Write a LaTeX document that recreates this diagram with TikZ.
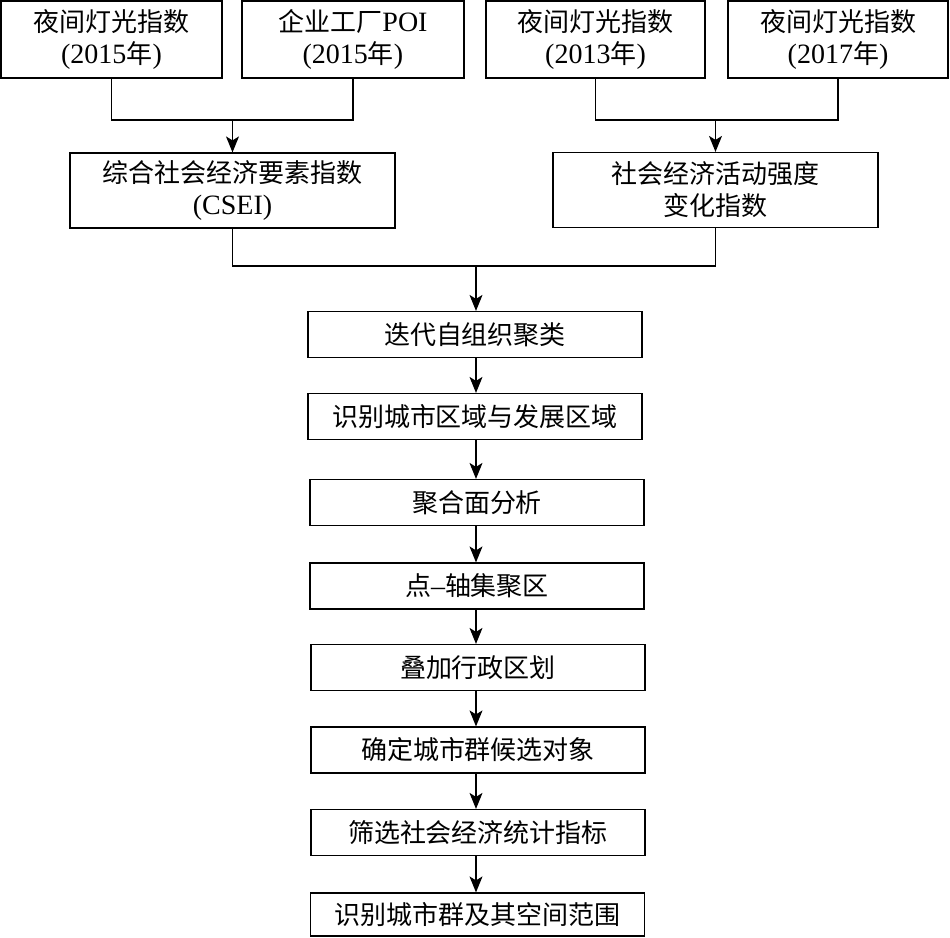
\documentclass[tikz,border=0pt]{standalone}
\usepackage{fontspec}
\setmainfont{Liberation Serif}
\newfontfamily\cjk{Noto Sans CJK SC}
\usetikzlibrary{arrows.meta}
\newcommand\lat[1]{{\rmfamily\fontsize{14}{16}\selectfont #1}}
\tikzset{
  box/.style={draw, line width=0.6pt, align=center, inner sep=0pt,
    font=\fontsize{13}{16}\selectfont\cjk},
  topbox/.style={box, minimum height=38.5pt},
  midbox/.style={box, minimum width=162.5pt, minimum height=37.5pt},
  lowbox/.style={box, minimum width=167pt, minimum height=23pt},
  link/.style={line width=0.6pt},
  arr/.style={line width=0.6pt, -{Stealth[length=8pt,width=6.5pt,inset=2pt]}}
}
\begin{document}
\begin{tikzpicture}[x=0.5pt,y=-0.5pt]
\useasboundingbox (0,0) rectangle (950,938);
% top row
\node[topbox, minimum width=110.5pt] (t1) at (111.5,39.5) {夜间灯光指数\\\lat{(2015}年\lat{)}};
\node[topbox, minimum width=111pt] (t2) at (353,39.5) {企业工厂\lat{POI}\\\lat{(2015}年\lat{)}};
\node[topbox, minimum width=109.5pt] (t3) at (595.5,39.5) {夜间灯光指数\\\lat{(2013}年\lat{)}};
\node[topbox, minimum width=110pt] (t4) at (838,39.5) {夜间灯光指数\\\lat{(2017}年\lat{)}};
% middle row
\node[midbox] (c1) at (232.5,190.5) {综合社会经济要素指数\\\lat{(CSEI)}};
\node[midbox] (c2) at (715.5,190) {社会经济活动强度\\变化指数};
% chain
\node[lowbox] (b1) at (475,334.5) {迭代自组织聚类};
\node[lowbox] (b2) at (475,416.5) {识别城市区域与发展区域};
\node[lowbox] (b3) at (477,502.5) {聚合面分析};
\node[lowbox] (b4) at (477,586) {点\lat{–}轴集聚区};
\node[lowbox] (b5) at (478,667.5) {叠加行政区划};
\node[lowbox] (b6) at (478,750) {确定城市群候选对象};
\node[lowbox] (b7) at (478,832.5) {筛选社会经济统计指标};
\node[lowbox, minimum height=21.5pt] (b8) at (477.5,914.5) {识别城市群及其空间范围};
% junctions
\coordinate (j1) at (232.5,120);
\coordinate (j2) at (715.5,120);
\coordinate (j3) at (476,266);
\draw[link] (t1.south) |- (j1);
\draw[link] (t2.south) |- (j1);
\draw[arr] (j1) -- (c1.north);
\draw[link] (t3.south) |- (j2);
\draw[link] (t4.south) |- (j2);
\draw[arr] (j2) -- (c2.north);
\draw[link] (c1.south) |- (j3);
\draw[link] (c2.south) |- (j3);
\draw[arr] (j3) -- (j3 |- b1.north);
\draw[arr] (b1.south -| j3) -- (j3 |- b2.north);
\draw[arr] (b2.south -| j3) -- (j3 |- b3.north);
\draw[arr] (b3.south -| j3) -- (j3 |- b4.north);
\draw[arr] (b4.south -| j3) -- (j3 |- b5.north);
\draw[arr] (b5.south -| j3) -- (j3 |- b6.north);
\draw[arr] (b6.south -| j3) -- (j3 |- b7.north);
\draw[arr] (b7.south -| j3) -- (j3 |- b8.north);
\end{tikzpicture}
\end{document}
